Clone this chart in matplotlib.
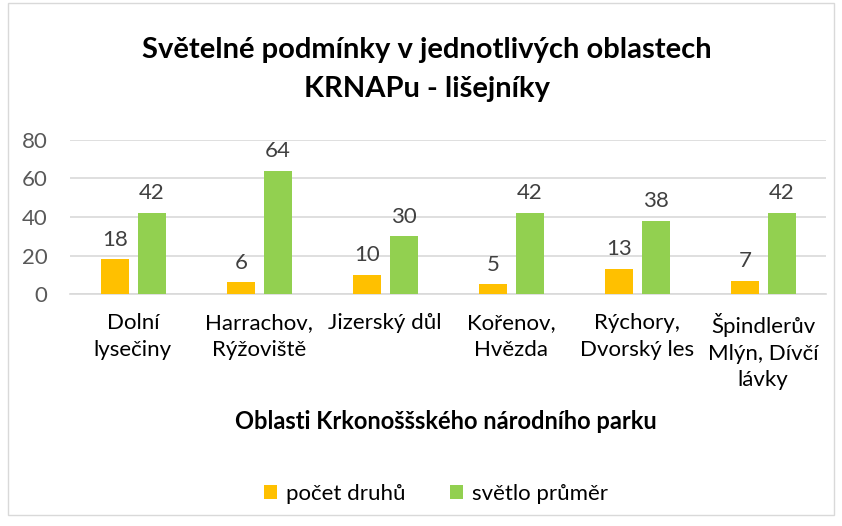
import matplotlib.pyplot as plt
import matplotlib
from matplotlib.patches import Rectangle
import numpy as np

matplotlib.rcParams['font.family'] = ['Lato', 'DejaVu Sans']

categories = ["Dolní\nlysečiny", "Harrachov,\nRýžoviště", "Jizerský důl",
              "Kořenov,\nHvězda", "Rýchory,\nDvorský les", "Špindlerův\nMlýn, Dívčí\nlávky"]
pocet_druhu = [18, 6, 10, 5, 13, 7]
svetlo_prumer = [42, 64, 30, 42, 38, 42]
yticks = [0, 20, 40, 60, 80]

fig = plt.figure(figsize=(8.42, 5.26), dpi=100)
ax = fig.add_axes([0.083, 0.441, 0.898, 0.293])

x = np.arange(len(categories))
w = 0.22
b1 = ax.bar(x - 0.14, pocet_druhu, w, color='#FFC000', label='počet druhů', zorder=3)
b2 = ax.bar(x + 0.15, svetlo_prumer, w, color='#92D050', label='světlo průměr', zorder=3)
ax.bar_label(b1, padding=7, fontsize=16, color='#404040')
ax.bar_label(b2, padding=7, fontsize=16, color='#404040')

ax.set_xlim(-0.5, len(categories) - 0.5)
ax.set_ylim(0, 80)
ax.set_yticks(yticks)
ax.set_xticks(x)
ax.set_xticklabels(categories, fontsize=16, color='#000000', linespacing=1.4)
ax.tick_params(axis='y', labelsize=16, labelcolor='#595959', length=0, pad=16)
ax.tick_params(axis='x', length=0, pad=14)
ax.yaxis.grid(True, color='#d9d9d9', linewidth=1.2, zorder=0)
for s in ['top', 'right', 'left']:
    ax.spines[s].set_visible(False)
ax.spines['bottom'].set_color('#d9d9d9')
ax.spines['bottom'].set_linewidth(1.2)

fig.text(0.507, 0.868, "Světelné podmínky v jednotlivých oblastech\nKRNAPu - lišejníky",
         ha='center', va='center', fontsize=21, fontweight='bold', linespacing=1.6)
fig.text(0.53, 0.198, "Oblasti Krkonoššského národního parku",
         ha='center', va='center', fontsize=17, fontweight='bold')

fig.legend(handles=[b1, b2], loc='center', bbox_to_anchor=(0.518, 0.061), ncol=2,
           frameon=False, fontsize=16, handlelength=0.6, handleheight=0.6,
           handletextpad=0.4, columnspacing=2.0)

fig.patches.append(Rectangle((0.009, 0.02), 0.982, 0.975, transform=fig.transFigure,
                             fill=False, edgecolor='#d9d9d9', linewidth=1))

fig.savefig('out.png', dpi=100)
